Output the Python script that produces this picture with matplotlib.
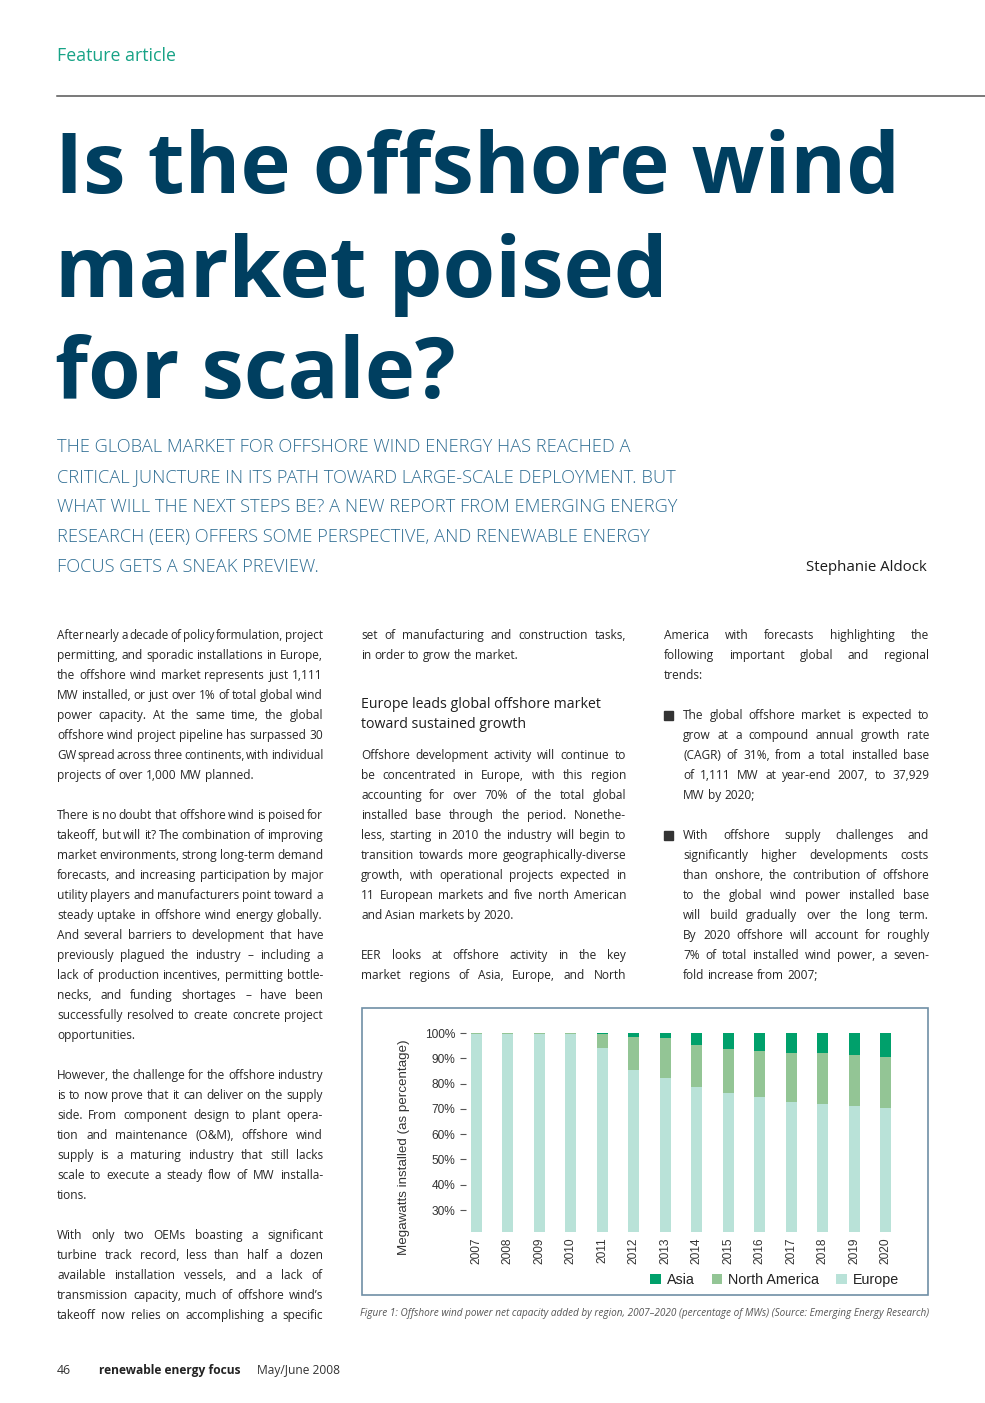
import matplotlib
matplotlib.use("Agg")
import matplotlib.pyplot as plt
from matplotlib.patches import Rectangle
from matplotlib.font_manager import FontProperties
from matplotlib.lines import Line2D

# ---------------- chart data ----------------
years = ["2007", "2008", "2009", "2010", "2011", "2012", "2013",
         "2014", "2015", "2016", "2017", "2018", "2019", "2020"]
europe = [99.6, 99.6, 99.6, 99.6, 94.1, 85.2, 82.4, 78.7, 76.2, 74.8, 72.9, 71.9, 71.2, 70.3]
north_america = [0.4, 0.4, 0.4, 0.4, 5.6, 13.3, 15.5, 16.7, 17.6, 18.2, 19.0, 20.0, 20.2, 20.2]
asia = [0.0, 0.0, 0.0, 0.0, 0.3, 1.5, 2.1, 4.6, 6.2, 7.0, 8.1, 8.1, 8.6, 9.5]
series_labels = ["Asia", "North America", "Europe"]
ytick_values = [30, 40, 50, 60, 70, 80, 90, 100]
ytick_labels = ["30%", "40%", "50%", "60%", "70%", "80%", "90%", "100%"]

# ---------------- page text ----------------
kicker = "Feature article"
title_lines = ["Is the offshore wind", "market poised", "for scale?"]
standfirst = ["THE GLOBAL MARKET FOR OFFSHORE WIND ENERGY HAS REACHED A",
              "CRITICAL JUNCTURE IN ITS PATH TOWARD LARGE-SCALE DEPLOYMENT. BUT",
              "WHAT WILL THE NEXT STEPS BE? A NEW REPORT FROM EMERGING ENERGY",
              "RESEARCH (EER) OFFERS SOME PERSPECTIVE, AND RENEWABLE ENERGY",
              "FOCUS GETS A SNEAK PREVIEW."]
author = "Stephanie Aldock"

col1_p1 = ["After nearly a decade of policy formulation, project",
           "permitting, and sporadic installations in Europe,",
           "the offshore wind market represents just 1,111",
           "MW installed, or just over 1% of total global wind",
           "power capacity. At the same time, the global",
           "offshore wind project pipeline has surpassed 30",
           "GW spread across three continents, with individual",
           "projects of over 1,000 MW planned."]
col1_p2 = ["There is no doubt that offshore wind is poised for",
           "takeoff, but will it? The combination of improving",
           "market environments, strong long-term demand",
           "forecasts, and increasing participation by major",
           "utility players and manufacturers point toward a",
           "steady uptake in offshore wind energy globally.",
           "And several barriers to development that have",
           "previously plagued the industry \u2013 including a",
           "lack of production incentives, permitting bottle-",
           "necks, and funding shortages \u2013 have been",
           "successfully resolved to create concrete project",
           "opportunities."]
col1_p3 = ["However, the challenge for the offshore industry",
           "is to now prove that it can deliver on the supply",
           "side. From component design to plant opera-",
           "tion and maintenance (O&M), offshore wind",
           "supply is a maturing industry that still lacks",
           "scale to execute a steady flow of MW installa-",
           "tions."]
col1_p4 = ["With only two OEMs boasting a significant",
           "turbine track record, less than half a dozen",
           "available installation vessels, and a lack of",
           "transmission capacity, much of offshore wind\u2019s",
           "takeoff now relies on accomplishing a specific"]
col2_p1 = ["set of manufacturing and construction tasks,",
           "in order to grow the market."]
col2_head = ["Europe leads global offshore market", "toward sustained growth"]
col2_p2 = ["Offshore development activity will continue to",
           "be concentrated in Europe, with this region",
           "accounting for over 70% of the total global",
           "installed base through the period. Nonethe-",
           "less, starting in 2010 the industry will begin to",
           "transition towards more geographically-diverse",
           "growth, with operational projects expected in",
           "11 European markets and five north American",
           "and Asian markets by 2020."]
col2_p3 = ["EER looks at offshore activity in the key",
           "market regions of Asia, Europe, and North"]
col3_p1 = ["America with forecasts highlighting the",
           "following important global and regional",
           "trends:"]
col3_b1 = ["The global offshore market is expected to",
           "grow at a compound annual growth rate",
           "(CAGR) of 31%, from a total installed base",
           "of 1,111 MW at year-end 2007, to 37,929",
           "MW by 2020;"]
col3_b2 = ["With offshore supply challenges and",
           "significantly higher developments costs",
           "than onshore, the contribution of offshore",
           "to the global wind power installed base",
           "will build gradually over the long term.",
           "By 2020 offshore will account for roughly",
           "7% of total installed wind power, a seven-",
           "fold increase from 2007;"]
caption = ("Figure 1: Offshore wind power net capacity added by region, 2007\u20132020 "
           "(percentage of MWs) (Source: Emerging Energy Research)")
footer_page = "46"
footer_mag = "renewable energy focus"
footer_date = "May/June 2008"

# ---------------- colours ----------------
C_TITLE = "#003f60"
C_STAND = "#2e6d93"
C_KICK = "#17a386"
C_BODY = "#262626"
C_EUR = "#b9e2d8"
C_NA = "#93c595"
C_ASIA = "#00a06b"
BODY_FONT = "Open Sans"
BODY_SIZE = 8.6

W, H = 985, 1403
fig = plt.figure(figsize=(W / 100, H / 100), dpi=100)
fig.patch.set_facecolor("white")
renderer = fig.canvas.get_renderer()


def fx(x):
    return x / W


def fy(y):
    return 1 - y / H


def text_w(s, fp):
    w, h, d = renderer.get_text_width_height_descent(s, fp, ismath=False)
    return w


def fit(s, target, **kw):
    fp = FontProperties(size=10, **kw)
    return 10 * target / text_w(s, fp)


# kicker + rule
s = fit(kicker, 119, family="Open Sans")
fig.text(fx(57), fy(61), kicker, family="Open Sans", size=s, color=C_KICK, va="baseline")
fig.add_artist(Line2D([fx(57), fx(985)], [fy(96), fy(96)], color="#555555", lw=1.1))

# title
ts = fit(title_lines[0], 846, family="Open Sans", weight="bold")
for line, yb in zip(title_lines, [193, 297, 398]):
    fig.text(fx(55), fy(yb), line, family="Open Sans", weight="bold", size=ts,
             color=C_TITLE, va="baseline")

# standfirst
ss = fit(standfirst[1], 618, family="Open Sans", weight="light")
for i, line in enumerate(standfirst):
    fig.text(fx(57), fy(452 + 30 * i), line, family="Open Sans", weight="light",
             size=ss, color=C_STAND, va="baseline")
fig.text(fx(927), fy(571), author, family="Open Sans", size=10.8, color="#1a1a1a",
         va="baseline", ha="right")

# body text
paras = [
    (57, 323, 635, col1_p1, False),
    (57, 323, 815, col1_p2, False),
    (57, 323, 1075, col1_p3, False),
    (57, 323, 1235, col1_p4, True),
    (361, 626, 635, col2_p1, False),
    (361, 626, 755, col2_p2, False),
    (361, 626, 955, col2_p3, True),
    (664, 929, 635, col3_p1, False),
    (683, 929, 715, col3_b1, False),
    (683, 929, 835, col3_b2, False),
]
base_fp = FontProperties(family=BODY_FONT, size=BODY_SIZE)
space = text_w("a a", base_fp) - text_w("aa", base_fp)
MIN_GAP = 0.6


def draw_para(x0, x1, yc, lines, last_just):
    for i, line in enumerate(lines):
        yb = yc + 20 * i + 4
        words = line.split(" ")
        fp = base_fp
        ws = [text_w(w, fp) for w in words]
        nat = sum(ws) + space * MIN_GAP * (len(words) - 1)
        if nat > (x1 - x0):
            fp = FontProperties(family=BODY_FONT, size=BODY_SIZE * (x1 - x0) / nat)
            ws = [text_w(w, fp) for w in words]
        last = (i == len(lines) - 1) and not last_just
        if last or len(words) == 1:
            gap = space
        else:
            gap = (x1 - x0 - sum(ws)) / (len(words) - 1)
        x = x0
        for w, wd in zip(words, ws):
            fig.text(fx(x), fy(yb), w, fontproperties=fp, color=C_BODY,
                     va="baseline", ha="left")
            x += wd + gap


for p in paras:
    draw_para(*p)

for yc in (715, 835):
    fig.add_artist(Rectangle((fx(664), fy(yc + 5)), 9 / W, 9 / H, color="#333333",
                             transform=fig.transFigure))

hs = fit(col2_head[0], 239, family="Open Sans")
for i, line in enumerate(col2_head):
    fig.text(fx(361), fy(708 + 20 * i), line, family="Open Sans", size=hs,
             color="#1e1e1e", va="baseline")

# chart frame
fig.add_artist(Rectangle((fx(362), fy(1295)), (928 - 362) / W, (1295 - 1008) / H,
                         fill=False, edgecolor="#6f8fa6", lw=1.2,
                         transform=fig.transFigure))

ax = fig.add_axes([fx(466), fy(1232), (895 - 466) / W, (1232 - 1033) / H])
xpos = list(range(len(years)))
bw = 0.35
b_eur = ax.bar(xpos, europe, bw, color=C_EUR, label=series_labels[2])
b_na = ax.bar(xpos, north_america, bw, bottom=europe, color=C_NA, label=series_labels[1])
base2 = [e + n for e, n in zip(europe, north_america)]
b_as = ax.bar(xpos, asia, bw, bottom=base2, color=C_ASIA, label=series_labels[0])
ax.set_xlim(-0.32, 13.3)
ax.set_ylim(21.3, 100)
for sp in ax.spines.values():
    sp.set_visible(False)
ax.set_yticks(ytick_values)
ax.set_yticklabels(ytick_labels, family="Liberation Sans", size=8.6, color="#333333")
ax.tick_params(axis="y", length=4.5, width=0.8, color="#555555", pad=3)
ax.set_xticks(xpos)
ax.set_xticklabels(years, rotation=90, family="Liberation Sans", size=8.6, color="#333333",
                   va="top")
ax.tick_params(axis="x", length=0, pad=4)
ax.patch.set_alpha(0)

fig.text(fx(404), fy(1147), "Megawatts installed (as percentage)", rotation=90,
         family="Liberation Sans", size=9.6, color="#333333", ha="center", va="center")

fig.legend([b_as, b_na, b_eur], series_labels, ncol=3, loc="center right",
           bbox_to_anchor=(fx(899), fy(1280)), frameon=False, handlelength=0.75,
           handleheight=0.75, handletextpad=0.4, columnspacing=1.2,
           prop=FontProperties(family="Liberation Sans", size=10.3),
           borderpad=0, borderaxespad=0, labelcolor="#222222")

cs = fit(caption, 566, family="Open Sans", style="italic")
fig.text(fx(360), fy(1316), caption, family="Open Sans", style="italic", size=cs,
         color="#555555", va="baseline")

# footer
fig.text(fx(57), fy(1374), footer_page, family="Open Sans", size=8.8, color="#333333",
         va="baseline")
fs = fit(footer_mag, 143, family="Open Sans", weight="bold")
fig.text(fx(99), fy(1374), footer_mag, family="Open Sans", weight="bold", size=fs,
         color="#222222", va="baseline")
fig.text(fx(257), fy(1374), footer_date, family="Open Sans", size=fs, color="#333333",
         va="baseline")

fig.savefig("out.png", dpi=100, facecolor="white")
